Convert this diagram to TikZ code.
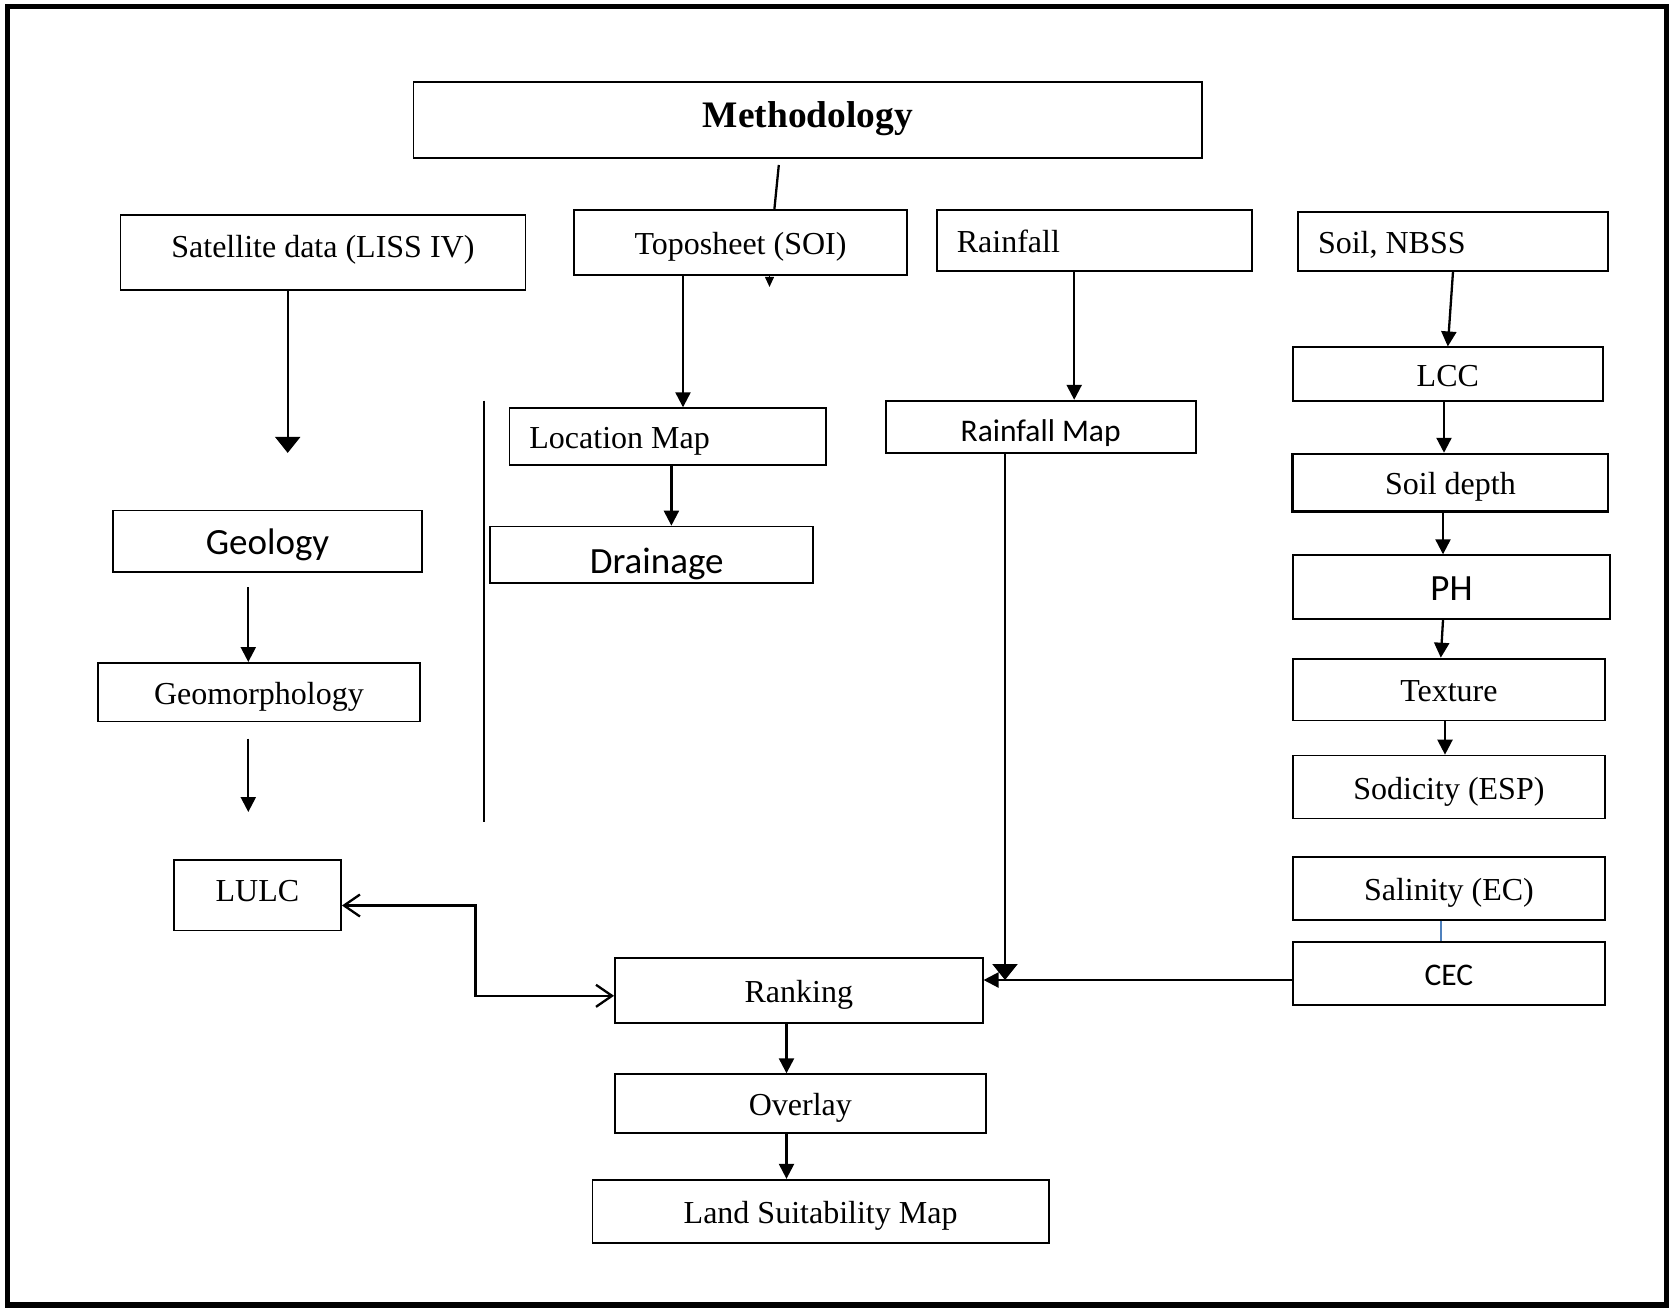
\documentclass[tikz,border=0pt]{standalone}
\usepackage{fontspec}
\setmainfont{Liberation Serif}
\newfontfamily\calibri{Carlito}
\usetikzlibrary{arrows.meta}
\definecolor{linkblue}{RGB}{79,129,189}
\newcommand\leftin[2]{\makebox[#1][l]{#2}}
\frenchspacing
\begin{document}
\begin{tikzpicture}[x=1pt,y=-1pt,
  box/.style={draw, line width=1.8pt, inner sep=0pt},
  tnr/.style={font=\fontsize{32}{38}\selectfont, text height=32pt, text depth=8pt},
  cal/.style={font=\calibri\fontsize{31.5}{38}\selectfont, text height=31.6pt, text depth=7.9pt},
  calbig/.style={font=\calibri\fontsize{37}{44}\selectfont, text height=35.75pt, text depth=9.25pt},
  leftbox/.style={inner xsep=20pt},
  arr/.style={line width=2.3pt, -{Triangle[width=15pt,length=15pt]}},
  bigarr/.style={line width=2.3pt, -{Triangle[width=25pt,length=16pt]}},
  openarr/.style={line width=2.3pt, {Straight Barb[width=22pt,length=16pt]}-{Straight Barb[width=22pt,length=16pt]}}]
\useasboundingbox (0,0) rectangle (1671,1307);
\draw[line width=5.3pt] (7.5,6.7) rectangle (1666.7,1305);

\node[box, font=\bfseries\fontsize{37.4}{45}\selectfont, text height=35pt, text depth=19.35pt, minimum width=788.5pt, minimum height=75.7pt] (meth) at (807.8,119.9) {Methodology};

\node[box, tnr, text depth=23pt, minimum width=405pt, minimum height=74.6pt] (sat) at (322.9,252.6) {Satellite data (LISS IV)};
\node[box, tnr, minimum width=333.5pt, minimum height=65pt] (topo) at (740.5,242.5) {Toposheet (SOI)};
\node[box, tnr, leftbox, minimum height=60.7pt] (rain) at (1094.5,240.4) {\leftin{275.4pt}{Rainfall}};
\node[box, tnr, leftbox, minimum height=58.7pt] (soil) at (1453,241.4) {\leftin{270pt}{Soil, NBSS}};

\node[box, tnr, minimum width=310pt, minimum height=53.3pt] (lcc) at (1447.8,374) {LCC};
\node[box, tnr, line width=2.6pt, minimum width=315.3pt, minimum height=57.5pt] (sdepth) at (1450.4,482.8) {Soil depth};
\node[box, calbig, minimum width=317.6pt, minimum height=64pt] (ph) at (1451.5,587.2) {PH};
\node[box, tnr, minimum width=312.3pt, minimum height=61.8pt] (texture) at (1448.9,689.5) {Texture};
\node[box, tnr, minimum width=312.3pt, minimum height=62.9pt] (sodic) at (1448.9,787) {Sodicity (ESP)};
\node[box, tnr, minimum width=312.3pt, minimum height=62.9pt] (salin) at (1448.9,888.3) {Salinity (EC)};
\node[box, cal, minimum width=312.3pt, minimum height=63pt] (cec) at (1448.9,973.5) {CEC};

\node[box, tnr, leftbox, minimum height=56.4pt] (locmap) at (667.7,436.4) {\leftin{276.6pt}{Location Map}};
\node[box, calbig, text height=46pt, minimum width=322.9pt, minimum height=56.5pt] (drain) at (651.7,554.8) {\makebox[322.9pt]{\hspace*{10pt}Drainage}};
\node[box, cal, text height=38pt, minimum width=310.1pt, minimum height=52.2pt] (rainmap) at (1040.7,426.8) {Rainfall Map};

\node[box, calbig, minimum width=309pt, minimum height=61.8pt] (geol) at (267.5,541.4) {Geology};
\node[box, tnr, minimum width=321.9pt, minimum height=58.6pt] (geom) at (259,692.2) {Geomorphology};
\node[box, tnr, text depth=18.6pt, minimum width=167.3pt, minimum height=70.4pt] (lulc) at (257.4,895.2) {LULC};

\node[box, tnr, minimum width=367.7pt, minimum height=65pt] (rank) at (798.8,990.5) {Ranking};
\node[box, tnr, minimum width=370.9pt, minimum height=58.6pt] (overlay) at (800.4,1103.5) {Overlay};
\node[box, tnr, minimum width=456.1pt, minimum height=62.9pt] (lsm) at (820.6,1211.2) {Land Suitability Map};

\coordinate (methtail) at (778.8,165);
\coordinate (satend) at (287.7,452.9);
\coordinate (geoltail) at (248.3,587.2);
\coordinate (geomtail) at (248.3,738.5);
\coordinate (geomend) at (248.3,812);
\coordinate (cecline) at (0,980);

\draw[line width=2.3pt] (methtail) -- (topo.north -| 774.4,0);
\draw[line width=1pt, -{Triangle[width=9pt,length=10pt]}] (topo.south -| 769.5,0) -- ++(0,11);
\draw[arr] (topo.south -| 683,0) -- (locmap.north -| 683,0);
\draw[arr] (locmap.south -| 671.4,0) -- (drain.north -| 671.4,0);
\draw[line width=2.3pt] (483.8,400.7) -- (483.8,821.6);

\draw[bigarr] (sat.south -| satend) -- (satend);
\draw[arr] (geoltail) -- (geom.north -| geoltail);
\draw[arr] (geomtail) -- (geomend);

\draw[arr] (rain.south -| 1074.2,0) -- (rainmap.north -| 1074.2,0);
\draw[bigarr] (rainmap.south -| 1005,0) -- (1005,0 |- cecline);
\draw[arr] (cec.west |- cecline) -- (rank.east |- cecline);
\draw[openarr] (lulc.east |- 0,905.5) -| (475.5,995.8) -- (rank.west |- 0,995.8);

\draw[arr] (soil.south) -- (lcc.north);
\draw[arr] (lcc.south -| 1444,0) -- (sdepth.north -| 1444,0);
\draw[arr] (sdepth.south -| 1443,0) -- (ph.north -| 1443,0);
\draw[arr] (ph.south -| 1443,0) -- (texture.north -| 1440.8,0);
\draw[arr] (texture.south -| 1445,0) -- (sodic.north -| 1445,0);
\draw[linkblue, line width=1.5pt] (salin.south -| 1440.8,0) -- (cec.north -| 1440.8,0);

\draw[arr] (rank.south -| 786.5,0) -- (overlay.north -| 786.5,0);
\draw[arr] (overlay.south -| 786.5,0) -- (lsm.north -| 786.5,0);
\end{tikzpicture}
\end{document}
